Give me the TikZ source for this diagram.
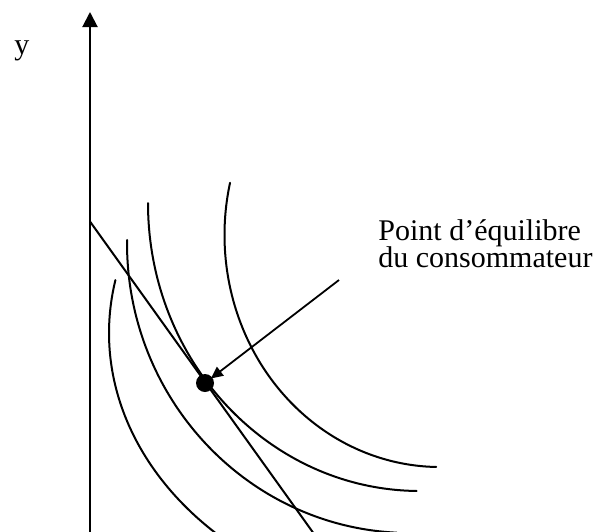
\documentclass[tikz,border=0pt]{standalone}
\usepackage{fontspec}
\setmainfont{Liberation Serif}
\usetikzlibrary{arrows.meta}
\tikzset{
  curve/.style={line width=1pt, line cap=round},
  axisline/.style={line width=1pt, -{Triangle[length=7.5pt,width=7.5pt]}},
  pointer/.style={line width=0.9pt, -{Triangle[length=6pt,width=5.5pt]}, shorten >=-1pt},
  lbl/.style={inner sep=0pt, font={\fontsize{15pt}{13.6pt}\selectfont\lineskiplimit=-20pt}},
  dotnode/.style={circle, fill=black, inner sep=0pt, minimum size=9pt}
}
\begin{document}
\begin{tikzpicture}[x=0.5pt,y=-0.5pt]
\useasboundingbox (0,0) rectangle (609,531);
% axis
\coordinate (ybot) at (90,536);
\coordinate (ytop) at (90,12);
\draw[axisline] (ybot) -- (ytop);
\node[lbl, anchor=base west] (ylab) at (14,54) {y};
% budget line
\coordinate (b1) at (90,221.5);
\coordinate (b2) at (315.5,536);
\draw[curve] (b1) -- (b2);
% indifference curves (elliptical arcs)
\draw[curve] ([shift={(190.9:355 and 280)}]464,333) arc[start angle=190.9, end angle=133, x radius=355, y radius=280];
\draw[curve] ([shift={(180.6:283 and 290)}]410,243) arc[start angle=180.6, end angle=92.7, x radius=283, y radius=290];
\draw[curve] ([shift={(180:272 and 288)}]420,203) arc[start angle=180, end angle=90.7, x radius=272, y radius=288];
\draw[curve] ([shift={(193:215.5 and 232)}]440,235) arc[start angle=193, end angle=91, x radius=215.5, y radius=232];
% equilibrium point
\node[dotnode] (eq) at (205,383) {};
\coordinate (ptr) at (339,280);
\draw[pointer] (ptr) -- (eq);
\node[lbl, anchor=base west, align=left] (txt) at (378,267.8) {Point d’équilibre\\du consommateur};
\end{tikzpicture}
\end{document}
